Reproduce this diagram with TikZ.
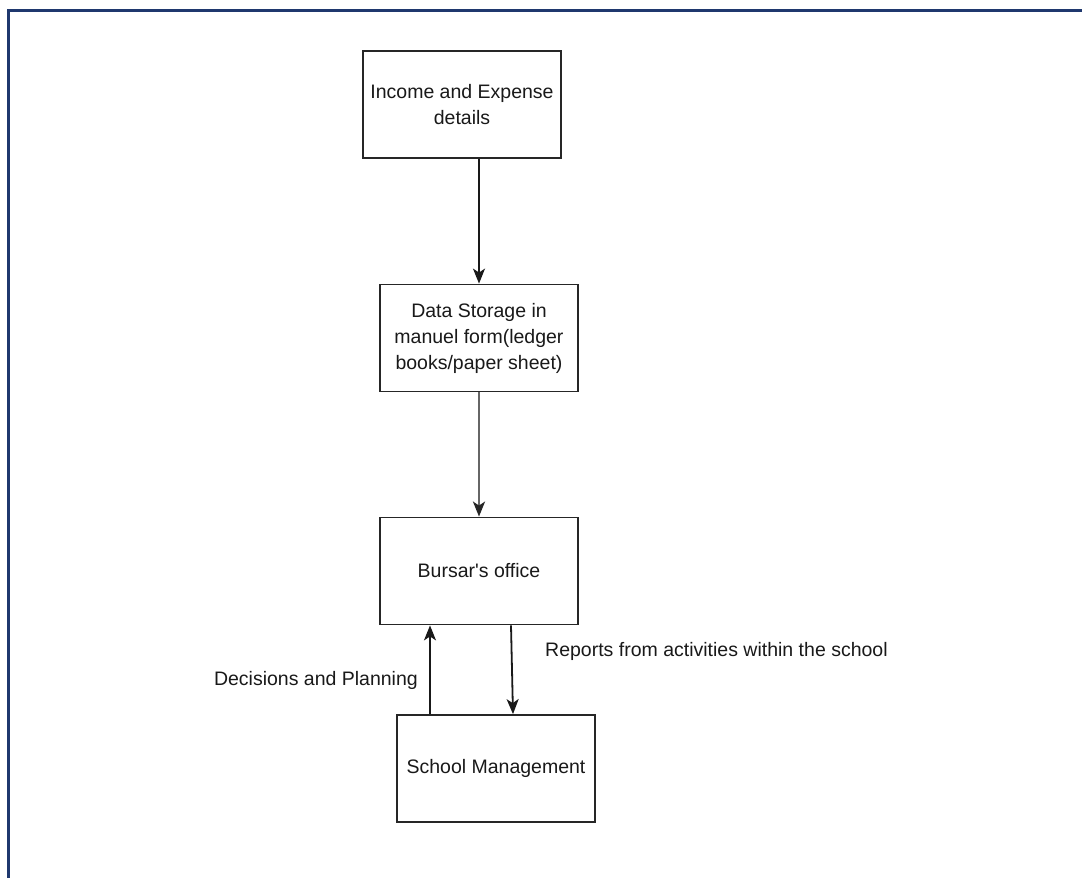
\documentclass[tikz,border=0pt]{standalone}
\usepackage{fontspec}
\setmainfont{Liberation Sans}
\usetikzlibrary{arrows.meta}
\definecolor{framecol}{RGB}{31,56,110}
\definecolor{txt}{RGB}{25,25,25}
\begin{document}
\begin{tikzpicture}[x=1pt,y=-1pt,
  box/.style={draw=black!85, line width=1.8pt, fill=white, minimum width=198pt, minimum height=107pt, inner sep=0pt, align=center, text=txt, font=\fontsize{19.5}{26}\selectfont},
  lbl/.style={text=txt, font=\fontsize{19.5}{26}\selectfont, inner sep=0pt},
  conn/.style={line width=1.8pt, draw=black!90, -{Stealth[length=15pt,width=12pt,inset=4pt]}},
  grayconn/.style={line width=2.4pt, draw=black!60, -{Stealth[length=15pt,width=12pt,inset=4pt,color=black!85]}}]
\useasboundingbox (0,0) rectangle (1082,878);
\fill[white] (0,0) rectangle (1082,878);
\draw[framecol, line width=3pt] (8,878) -- (8,10) -- (1082,10);

\node[box] (income) at (462,104.5) {Income and Expense\\details};
\node[box] (data) at (479,338) {Data Storage in\\manuel form(ledger\\books/paper sheet)};
\node[box] (bursar) at (479,571) {Bursar\textquotesingle s office};
\node[box] (school) at (496,768.5) {School Management};

\draw[conn] (data.north |- income.south) -- (data.north);
\draw[grayconn] (data.south) -- (bursar.north);
\draw[conn] ([xshift=32pt]bursar.south) -- ([xshift=17pt]school.north);
\draw[conn] ([xshift=-66pt]school.north) -- ([xshift=-49pt]bursar.south);

\node[lbl, anchor=west] (reports) at (545,651) {Reports from activities within the school};
\node[lbl, anchor=east] (decisions) at (418,680) {Decisions and Planning};
\end{tikzpicture}
\end{document}
